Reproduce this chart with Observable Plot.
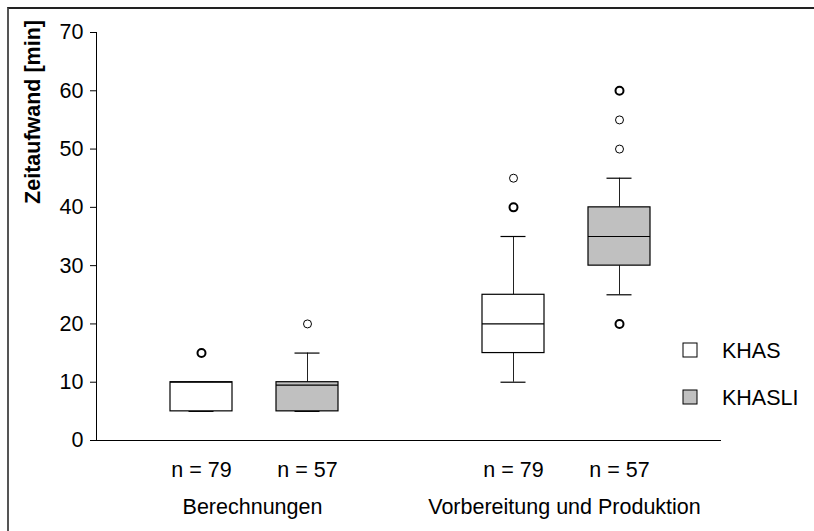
<!DOCTYPE html>
<html>
<head>
<meta charset="utf-8">
<script src="https://cdn.jsdelivr.net/npm/d3@7"></script>
<script src="https://cdn.jsdelivr.net/npm/@observablehq/plot@0.6"></script>
<style>
  html, body { margin: 0; padding: 0; background: #fff; }
  #wrap { position: relative; width: 814px; height: 531px; overflow: hidden; }
  #border { position: absolute; left: 7px; top: 7px; width: 900px; height: 600px;
            border-top: 2px solid #222; border-left: 2px solid #555; }
  #chart { position: absolute; left: 0; top: 0; }
</style>
</head>
<body>
<div id="wrap"><div id="border"></div><div id="chart"></div></div>
<script>
// ---- data ----
const groupNames = ["Berechnungen", "Vorbereitung und Produktion"];
const seriesNames = ["KHAS", "KHASLI"];
const seriesN = [79, 57];
const seriesFill = ["#ffffff", "#c0c0c0"];

const boxGroup = ["Berechnungen", "Berechnungen", "Vorbereitung und Produktion", "Vorbereitung und Produktion"];
const boxSeries = ["KHAS", "KHASLI", "KHAS", "KHASLI"];
const whiskerLow = [5, 5, 10, 25];
const q1 = [5, 5, 15, 30];
const median = [10, 9.5, 20, 35];
const q3 = [10, 10, 25, 40];
const whiskerHigh = [10, 15, 35, 45];

const outlierGroup = ["Berechnungen", "Berechnungen", "Vorbereitung und Produktion", "Vorbereitung und Produktion",
                      "Vorbereitung und Produktion", "Vorbereitung und Produktion", "Vorbereitung und Produktion", "Vorbereitung und Produktion"];
const outlierSeries = ["KHAS", "KHASLI", "KHAS", "KHAS", "KHASLI", "KHASLI", "KHASLI", "KHASLI"];
const outlierValue = [15, 20, 40, 45, 20, 50, 55, 60];
const outlierCount = [2, 1, 2, 1, 2, 1, 1, 2];

const yTicks = [0, 10, 20, 30, 40, 50, 60, 70];
const yLabel = "Zeitaufwand [min]";

// ---- tables ----
const boxes = boxGroup.map((g, i) => ({
  group: g, series: boxSeries[i], lo: whiskerLow[i], q1: q1[i], med: median[i], q3: q3[i], hi: whiskerHigh[i]
}));
const outliers = outlierGroup.map((g, i) => ({
  group: g, series: outlierSeries[i], value: outlierValue[i], count: outlierCount[i]
}));

const font = "'Liberation Sans', Arial, sans-serif";
const fs = 21.5;

const plot = Plot.plot({
  width: 814,
  height: 531,
  marginLeft: 96,
  marginRight: 94,
  marginTop: 32,
  marginBottom: 91,
  style: { fontFamily: font, fontSize: fs + "px", color: "#000", background: "transparent", overflow: "visible" },
  fx: { domain: groupNames, padding: 0, label: null },
  x: { domain: seriesNames, paddingInner: 0.417, paddingOuter: 0.675, align: 0.51, label: null },
  y: { domain: [0, 70], label: null },
  color: { domain: seriesNames, range: seriesFill },
  marks: [
    Plot.frame({ anchor: "bottom", stroke: "#000" }),
    Plot.frame({ anchor: "left", facetAnchor: "left", stroke: "#000" }),
    Plot.ruleX(boxes, { fx: "group", x: "series", y1: "q3", y2: "hi", stroke: "#222", strokeWidth: 1 }),
    Plot.ruleX(boxes, { fx: "group", x: "series", y1: "lo", y2: "q1", stroke: "#222", strokeWidth: 1 }),
    Plot.tickY(boxes, { fx: "group", x: "series", y: "hi", insetLeft: 18.5, insetRight: 18.5, stroke: "#000", strokeWidth: 1.2 }),
    Plot.tickY(boxes, { fx: "group", x: "series", y: "lo", insetLeft: 18.5, insetRight: 18.5, stroke: "#000", strokeWidth: 1.2 }),
    Plot.barY(boxes, { fx: "group", x: "series", y1: "q1", y2: "q3", fill: "series", stroke: "#000", strokeWidth: 1.2 }),
    Plot.tickY(boxes, { fx: "group", x: "series", y: "med", stroke: "#000", strokeWidth: 1.2 }),
    Plot.dot(outliers.filter(d => d.count === 1), { fx: "group", x: "series", y: "value", r: 4, fill: "#fff", stroke: "#000", strokeWidth: 1 }),
    Plot.dot(outliers.filter(d => d.count > 1), { fx: "group", x: "series", y: "value", r: 4, fill: "#fff", stroke: "#000", strokeWidth: 2 }),
    Plot.axisY({ ticks: yTicks, tickSize: 6, tickPadding: 7, label: null, fontSize: fs }),
    Plot.axisX({ anchor: "bottom", tickSize: 0, tickPadding: 21, label: null, fontSize: fs,
                 tickFormat: s => "n = " + seriesN[seriesNames.indexOf(s)] }),
    Plot.axisFx({ anchor: "bottom", tickSize: 0, tickPadding: 58, label: null, fontSize: fs })
  ]
});

document.getElementById("chart").appendChild(plot);

// y-axis title and legend
const svg = d3.select(plot);
svg.append("text")
  .attr("transform", "translate(40,20) rotate(-90)")
  .attr("text-anchor", "end")
  .attr("font-family", font)
  .attr("font-size", fs)
  .attr("font-weight", "bold")
  .attr("fill", "#000")
  .text(yLabel);

const legend = svg.append("g");
seriesNames.forEach((s, i) => {
  const cy = 350 + i * 47;
  legend.append("rect")
    .attr("x", 683).attr("y", cy - 7).attr("width", 14).attr("height", 14)
    .attr("fill", seriesFill[i]).attr("stroke", "#000").attr("stroke-width", 1);
  legend.append("text")
    .attr("x", 722).attr("y", cy).attr("dy", "0.36em")
    .attr("text-anchor", "start")
    .attr("font-family", font).attr("font-size", fs).attr("fill", "#000")
    .text(s);
});
</script>
</body>
</html>
